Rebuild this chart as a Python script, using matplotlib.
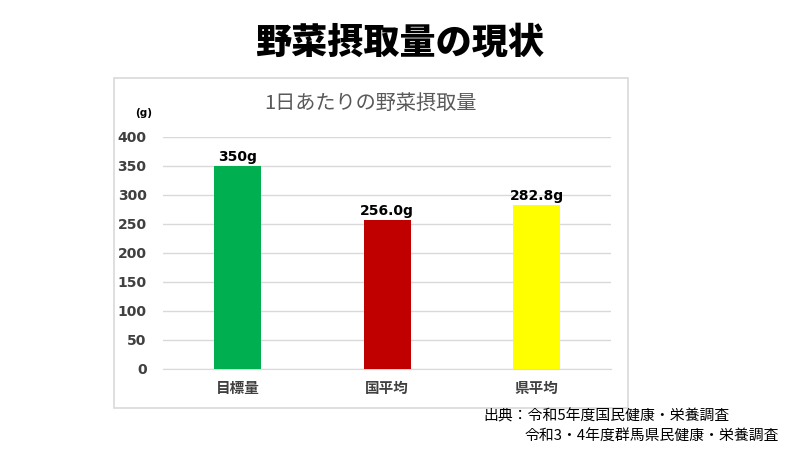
import matplotlib
matplotlib.use("Agg")
import matplotlib.pyplot as plt
from matplotlib.patches import Rectangle

plt.rcParams['font.family'] = ['Noto Sans CJK JP', 'DejaVu Sans']

# data
categories = ['目標量', '国平均', '県平均']
values = [350, 256.0, 282.8]
value_labels = ['350g', '256.0g', '282.8g']
bar_colors = ['#00b050', '#c00000', '#ffff00']
yticks = [0, 50, 100, 150, 200, 250, 300, 350, 400]

fig = plt.figure(figsize=(8, 4.5), dpi=100)
fig.patch.set_facecolor('white')

# outer chart frame (behind the axes)
fig.patches.append(Rectangle((0.1425, 0.0933), 0.6425, 0.733, transform=fig.transFigure,
                             facecolor='white', edgecolor='#d9d9d9', linewidth=1.2, zorder=-5))

fig.text(0.5, 0.905, '野菜摂取量の現状', ha='center', va='center',
         fontsize=26, fontweight='black', color='black')
fig.text(0.4625, 0.77, '1日あたりの野菜摂取量', ha='center', va='center',
         fontsize=14.5, color='#595959')
fig.text(0.179, 0.748, '(g)', ha='center', va='center',
         fontsize=7.5, fontweight='bold', color='black', family=['DejaVu Sans'])

ax = fig.add_axes([0.204, 0.18, 0.56, 0.516])
x = range(len(categories))
ax.bar(x, values, width=0.315, color=bar_colors, zorder=3)
for i, v in enumerate(values):
    ax.text(i, v + 4, value_labels[i], ha='center', va='bottom',
            fontsize=10, fontweight='bold', color='black', family=['DejaVu Sans'])

ax.set_xlim(-0.5, 2.5)
ax.set_ylim(0, 400)
ax.set_yticks(yticks)
ax.set_yticklabels([str(t) for t in yticks], fontsize=10, fontweight='bold',
                   color='#404040', family=['DejaVu Sans'])
ax.set_xticks(list(x))
ax.set_xticklabels(categories, fontsize=10.5, color='#404040', fontweight='bold')
ax.tick_params(axis='both', length=0)
ax.tick_params(axis='y', pad=12)
ax.tick_params(axis='x', pad=8)
ax.grid(axis='y', color='#d9d9d9', linewidth=1, zorder=0)
for s in ['top', 'right', 'left']:
    ax.spines[s].set_visible(False)
ax.spines['bottom'].set_color('#d9d9d9')
ax.set_facecolor('none')

fig.text(0.604, 0.075, '出典：令和5年度国民健康・栄養調査', ha='left', va='center',
         fontsize=10.7, color='black')
fig.text(0.656, 0.03, '令和3・4年度群馬県民健康・栄養調査', ha='left', va='center',
         fontsize=10.7, color='black')

fig.savefig('out.png', dpi=100)
